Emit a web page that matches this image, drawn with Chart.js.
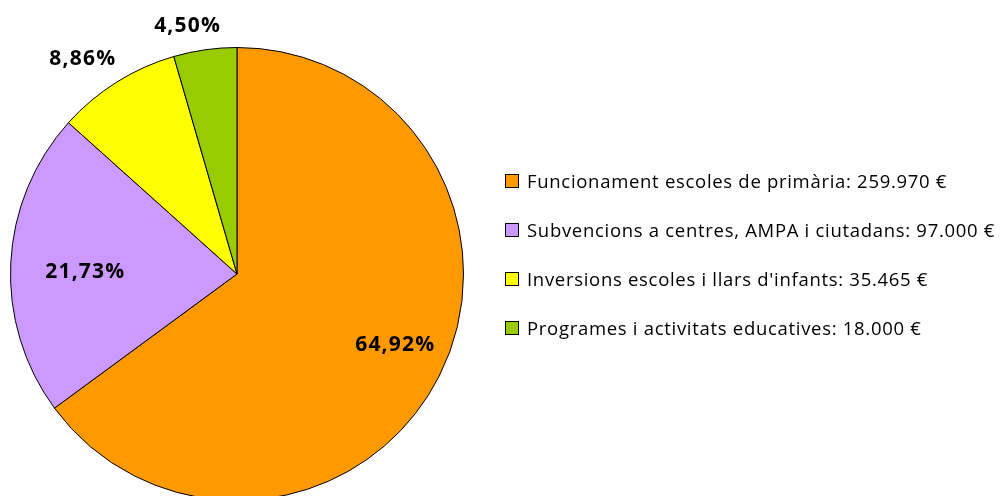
<!DOCTYPE html>
<html>
<head>
<meta charset="utf-8">
<script src="https://cdn.jsdelivr.net/npm/chart.js@4/dist/chart.umd.min.js"></script>
<style>
  body { margin: 0; background: #fff; overflow: hidden; }
  #wrap { width: 1000px; height: 496px; overflow: hidden; }
</style>
</head>
<body>
<div id="wrap"><canvas id="pieChart" width="1000" height="510"></canvas></div>
<script>
const categories = [
    "Funcionament escoles de primària",
    "Subvencions a centres, AMPA i ciutadans",
    "Inversions escoles i llars d'infants",
    "Programes i activitats educatives"
];
const amounts = ["259.970", "97.000", "35.465", "18.000"];
const percents = [64.92, 21.73, 8.86, 4.50];
const colors = ['#ff9900', '#cc99ff', '#ffff00', '#99cc00'];
// label placement: fraction of radius, and angle nudge in degrees
const labelDist = [0.764, 0.67, 1.174, 1.123];
const labelNudge = [-3.0, -1.4, -3.3, -3.1];

const FONT = "'Open Sans', Lato, sans-serif";

const labelsPlugin = {
    id: 'pctLabels',
    afterDatasetsDraw(chart) {
        const ctx = chart.ctx;
        const meta = chart.getDatasetMeta(0);
        ctx.save();
        ctx.font = "bold 21px " + FONT;
        ctx.letterSpacing = '1.2px';
        ctx.fillStyle = '#000';
        ctx.textAlign = 'center';
        ctx.textBaseline = 'alphabetic';
        meta.data.forEach((arc, i) => {
            const p = arc.getProps(['x', 'y', 'startAngle', 'endAngle', 'outerRadius'], true);
            const mid = (p.startAngle + p.endAngle) / 2 + labelNudge[i] * Math.PI / 180;
            const r = p.outerRadius * labelDist[i];
            const txt = percents[i].toFixed(2).replace('.', ',') + '%';
            ctx.fillText(txt, p.x + Math.cos(mid) * r, p.y + Math.sin(mid) * r + 7.5);
        });
        ctx.restore();
    }
};

const legendPlugin = {
    id: 'sideLegend',
    afterDraw(chart) {
        const ctx = chart.ctx;
        ctx.save();
        ctx.font = "18.5px " + FONT;
        ctx.letterSpacing = '0.7px';
        ctx.textBaseline = 'alphabetic';
        ctx.textAlign = 'left';
        categories.forEach((c, i) => {
            const y = 181 + i * 49;
            ctx.fillStyle = colors[i];
            ctx.fillRect(506, y - 6, 13, 13);
            ctx.strokeStyle = '#000';
            ctx.lineWidth = 1;
            ctx.strokeRect(505.5, y - 6.5, 13, 13);
            ctx.fillStyle = '#000';
            ctx.fillText(c + ': ' + amounts[i] + ' €', 527, y + 7);
        });
        ctx.restore();
    }
};

new Chart(document.getElementById('pieChart'), {
    type: 'pie',
    data: {
        labels: categories,
        datasets: [{
            data: percents,
            backgroundColor: colors,
            borderColor: '#000',
            borderWidth: 1
        }]
    },
    options: {
        responsive: false,
        animation: false,
        layout: { padding: { left: 10, top: 47, right: 536, bottom: 9 } },
        plugins: {
            legend: { display: false },
            tooltip: { enabled: false }
        }
    },
    plugins: [labelsPlugin, legendPlugin]
});
</script>
</body>
</html>
